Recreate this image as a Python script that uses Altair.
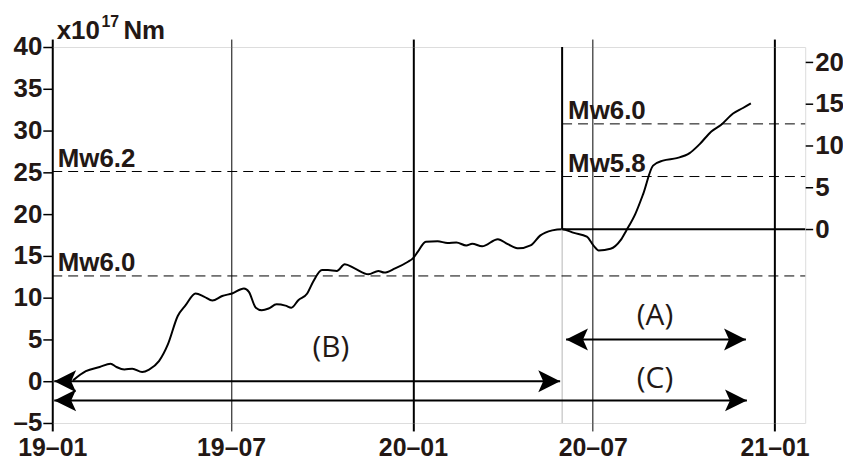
import altair as alt
import pandas as pd

# ---- cumulative seismic moment curve (x10^17 Nm) ----
curve_dates = [
    "2019-01-22", "2019-02-04", "2019-02-18", "2019-03-01", "2019-03-07", "2019-03-15",
    "2019-03-23", "2019-04-02", "2019-04-09", "2019-04-19", "2019-04-28", "2019-05-08",
    "2019-05-16", "2019-05-26", "2019-06-04", "2019-06-12", "2019-06-22", "2019-07-02",
    "2019-07-14", "2019-07-19", "2019-07-26", "2019-08-01", "2019-08-08", "2019-08-16",
    "2019-08-25", "2019-08-31", "2019-09-07", "2019-09-16", "2019-09-22", "2019-10-01",
    "2019-10-07", "2019-10-16", "2019-10-24", "2019-11-03", "2019-11-17", "2019-11-27",
    "2019-12-03", "2019-12-14", "2019-12-27", "2020-01-01", "2020-01-06", "2020-01-14",
    "2020-01-26", "2020-02-05", "2020-02-14", "2020-02-24", "2020-03-01", "2020-03-11",
    "2020-03-27", "2020-04-06", "2020-04-17", "2020-04-29", "2020-05-09", "2020-05-21",
    "2020-05-31", "2020-06-12", "2020-06-25", "2020-07-02", "2020-07-07", "2020-07-19",
    "2020-07-29", "2020-08-04", "2020-08-13", "2020-08-21", "2020-08-31", "2020-09-10",
    "2020-09-24", "2020-10-07", "2020-10-17", "2020-10-29", "2020-11-08", "2020-11-20",
    "2020-11-30", "2020-12-08",
]
curve_moment = [
    0.1, 1.2, 1.7, 2.1, 1.7, 1.4,
    1.5, 1.1, 1.4, 2.4, 4.4, 7.8,
    9.1, 10.5, 10.1, 9.65, 10.2, 10.5,
    11.1, 10.7, 8.8, 8.5, 8.7, 9.2,
    9.05, 8.8, 9.7, 10.5, 11.9, 13.3,
    13.3, 13.2, 14.0, 13.5, 12.8, 13.2,
    13.0, 13.5, 14.3, 14.7, 15.5, 16.7,
    16.75, 16.55, 16.6, 16.25, 16.45, 16.15,
    17.0, 16.4, 15.9, 16.25, 17.45, 18.05,
    18.2, 17.75, 17.3, 16.2, 15.65, 15.85,
    16.85, 18.05, 20.0, 22.4, 25.8, 26.4,
    26.7, 27.3, 28.35, 29.9, 30.7, 32.05,
    32.7, 33.25,
]

# ---- axes ----
x_tick_years = [2019, 2019, 2020, 2020, 2021]
x_tick_months = [1, 7, 1, 7, 1]
left_ticks = [-5, 0, 5, 10, 15, 20, 25, 30, 35, 40]
right_ticks = [0, 5, 10, 15, 20]
left_min, left_max = -5, 40
split_date = "2020-05-31"      # start of period (A)
axis_end_date = "2021-02-01"
right_zero = 18.2              # cumulative moment at split date = 0 of right axis

# ---- Mw reference levels ----
left_level_names = ["Mw6.2", "Mw6.0"]
left_level_values = [25.1, 12.6]
left_level_ends = ["2020-05-31", "2021-02-01"]
right_level_names = ["Mw6.0", "Mw5.8"]
right_level_values = [12.6, 6.3]

# ---- period arrows ----
span_names = ["(A)", "(B)", "(C)"]
span_start = ["2020-06-04", "2019-01-03", "2019-01-03"]
span_end = ["2020-12-03", "2020-05-29", "2020-12-04"]
span_level = [5.0, 0.0, -2.3]
span_label_date = ["2020-09-02", "2019-10-10", "2020-09-02"]
span_label_level = [7.8, 4.0, 0.2]

TXT = "#231815"
BOLD = "Liberation Sans"

curve_df = pd.DataFrame({"date": curve_dates, "m": curve_moment})
split_df = pd.DataFrame({"date": [split_date], "end": [axis_end_date],
                         "top": [left_max], "bottom": [right_zero], "zero": [0]})
left_lv = pd.DataFrame({"name": left_level_names, "v": left_level_values,
                        "start": ["2019-01-01"] * 2, "end": left_level_ends})
right_lv = pd.DataFrame({"name": right_level_names, "v": right_level_values,
                         "start": [split_date] * 2, "end": [axis_end_date] * 2})
span_df = pd.DataFrame({"name": span_names, "start": span_start, "end": span_end,
                        "y": span_level, "ld": span_label_date, "ly": span_label_level})
unit_df = pd.DataFrame({"t": ["x10"]})
sup_df = pd.DataFrame({"t": ["17"]})
nm_df = pd.DataFrame({"t": ["Nm"]})

tick_vals = [alt.DateTime(year=y, month=m, date=1, utc=True)
             for y, m in zip(x_tick_years, x_tick_months)]
X_SCALE = alt.Scale(type="utc", nice=False,
                    domain=[alt.DateTime(year=2019, month=1, date=1, utc=True),
                            alt.DateTime(year=2021, month=2, date=1, utc=True)])
Y_LEFT = alt.Scale(domain=[left_min, left_max], nice=False, zero=False)
Y_RIGHT = alt.Scale(domain=[left_min - right_zero, left_max - right_zero], nice=False, zero=False)

jan_cond = {"condition": {"test": "utcmonth(datum.value) == 0", "value": 2}, "value": 1}

x_axis_bottom = alt.Axis(
    values=tick_vals, labelExpr="utcFormat(datum.value, '%y–%m')",
    tickSize=8, tickColor="black", tickWidth=jan_cond,
    grid=True, gridColor="black", gridOpacity=1, gridWidth=jan_cond,
    domain=False, labelFont=BOLD, labelFontWeight="bold", labelFontSize=25,
    labelColor=TXT, labelPadding=5, labelFlush=False,
    labelOverlap=False, labelBound=False, title=None)
x_axis_top = alt.Axis(
    orient="top", values=tick_vals, labels=False, tickSize=8, tickColor="black",
    tickWidth=jan_cond, grid=False, domain=False, title=None)
y_axis_left = alt.Axis(
    values=left_ticks, labelExpr="datum.value < 0 ? '–' + (-datum.value) : datum.label",
    tickSize=9.5, tickColor="black", tickWidth=1.5, grid=False, domain=False,
    labelFont=BOLD, labelFontWeight="bold", labelFontSize=26, labelColor=TXT,
    labelPadding=1, labelOverlap=False, labelBound=False, labelFlush=False, title=None)
y_axis_right = alt.Axis(
    orient="right", values=right_ticks, tickSize=7.5, tickColor="black", tickWidth=1.5,
    grid=False, domain=False, labelFont=BOLD, labelFontWeight="bold", labelFontSize=26,
    labelColor=TXT, labelPadding=2, labelOverlap=False, labelBound=False,
    labelFlush=False, title=None)

def xe(field="date"):
    return alt.X(f"{field}:T", scale=X_SCALE, axis=None)

curve = alt.Chart(curve_df).mark_line(color="black", strokeWidth=2, interpolate="monotone").encode(
    x=alt.X("date:T", scale=X_SCALE, axis=x_axis_bottom),
    y=alt.Y("m:Q", scale=Y_LEFT, axis=y_axis_left))

gray = alt.Chart(split_df).mark_rule(color="#b5b5b5", strokeWidth=1).encode(
    x=alt.X("date:T", scale=X_SCALE, axis=x_axis_top))

vbar = alt.Chart(split_df).mark_rule(color="black", strokeWidth=2).encode(
    x=xe(), y=alt.Y("top:Q", scale=Y_LEFT, axis=None), y2="bottom:Q")

hbar = alt.Chart(split_df).mark_rule(color="black", strokeWidth=2).encode(
    x=xe(), x2="end:T", y=alt.Y("zero:Q", scale=Y_RIGHT, axis=y_axis_right))

left_dash = alt.Chart(left_lv).mark_rule(color="black", strokeWidth=1, strokeDash=[10, 6]).encode(
    x=xe("start"), x2="end:T", y=alt.Y("v:Q", scale=Y_LEFT, axis=None))
right_dash = alt.Chart(right_lv).mark_rule(color="black", strokeWidth=1, strokeDash=[10, 6]).encode(
    x=xe("start"), x2="end:T", y=alt.Y("v:Q", scale=Y_RIGHT, axis=None))

left_txt = alt.Chart(left_lv).mark_text(
    font=BOLD, fontWeight="bold", fontSize=26, color=TXT, align="left",
    baseline="alphabetic", dx=5.5, dy=-5).encode(
    x=xe("start"), y=alt.Y("v:Q", scale=Y_LEFT, axis=None), text="name:N")
right_txt = alt.Chart(right_lv).mark_text(
    font=BOLD, fontWeight="bold", fontSize=26, color=TXT, align="left",
    baseline="alphabetic", dx=6, dy=-5).encode(
    x=xe("start"), y=alt.Y("v:Q", scale=Y_RIGHT, axis=None), text="name:N")

shafts = alt.Chart(span_df).mark_rule(color="black", strokeWidth=2).encode(
    x=xe("start"), x2="end:T", y=alt.Y("y:Q", scale=Y_LEFT, axis=None))
head_r = alt.Chart(span_df).mark_point(
    shape="M0,0 L-2,-1 L-1.55,0 L-2,1 Z", size=484, filled=True, color="black",
    opacity=1, strokeWidth=0).encode(
    x=xe("end"), y=alt.Y("y:Q", scale=Y_LEFT, axis=None))
head_l = alt.Chart(span_df).mark_point(
    shape="M0,0 L2,-1 L1.55,0 L2,1 Z", size=484, filled=True, color="black",
    opacity=1, strokeWidth=0).encode(
    x=xe("start"), y=alt.Y("y:Q", scale=Y_LEFT, axis=None))
span_txt = alt.Chart(span_df).mark_text(
    font="Open Sans", fontSize=30, color=TXT, align="center", baseline="middle").encode(
    x=xe("ld"), y=alt.Y("ly:Q", scale=Y_LEFT, axis=None), text="name:N")

unit1 = alt.Chart(unit_df).mark_text(
    font=BOLD, fontWeight="bold", fontSize=26, color=TXT, align="left",
    baseline="alphabetic").encode(x=alt.value(4.5), y=alt.value(-8), text="t:N")
unit2 = alt.Chart(sup_df).mark_text(
    font=BOLD, fontWeight="bold", fontSize=16, color=TXT, align="left",
    baseline="alphabetic").encode(x=alt.value(49.5), y=alt.value(-20.5), text="t:N")
unit3 = alt.Chart(nm_df).mark_text(
    font=BOLD, fontWeight="bold", fontSize=26, color=TXT, align="left",
    baseline="alphabetic").encode(x=alt.value(71.5), y=alt.value(-8), text="t:N")

chart = alt.layer(
    curve, gray, vbar, hbar, left_dash, right_dash, left_txt, right_txt,
    shafts, head_r, head_l, span_txt, unit1, unit2, unit3
).resolve_scale(y="independent").resolve_axis(x="independent").properties(
    width=757, height=378,
    autosize=alt.AutoSizeParams(type="none"),
    padding={"left": 44.5, "top": 38, "right": 38, "bottom": 38.5},
).configure_view(stroke="black", strokeWidth=3).configure(background="white")

chart.save("out.html", embed_options={"renderer": "svg", "actions": False})
